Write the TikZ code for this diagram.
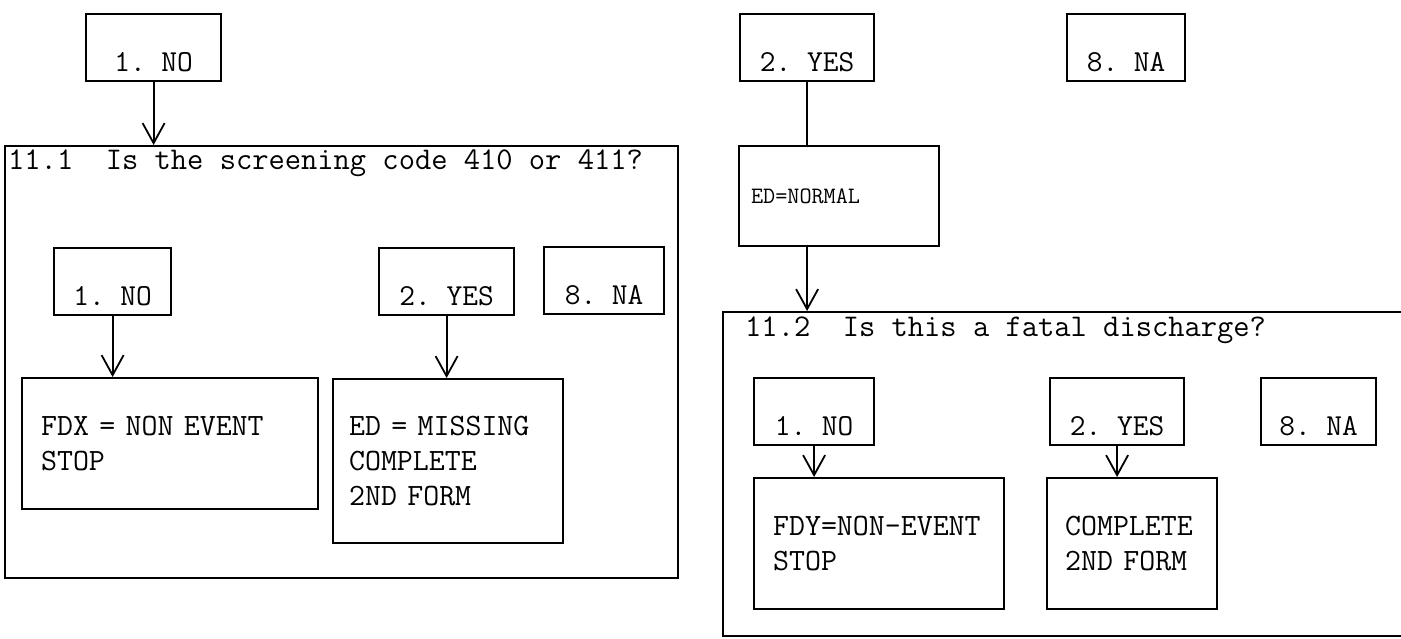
\documentclass[tikz,border=0pt]{standalone}
\usepackage{fontspec}
\usetikzlibrary{arrows.meta}
\frenchspacing

\begin{document}
\begin{tikzpicture}[x=1pt,y=-1pt,
                panel/.style={draw,line width=2.2pt,anchor=north west,inner sep=0pt},
                question/.style={anchor=base west,inner sep=0pt,font=\fontsize{31.6}{34}\ttfamily},
                choice/.style={draw,line width=2.2pt,anchor=north west,inner sep=0pt,minimum width=#1,text height=57pt,text depth=10pt,font=\fontsize{30.5}{34}\ttfamily},
                result/.style={draw,line width=2.2pt,anchor=north west,inner ysep=0pt,align=left,font=\fontsize{31}{35}\ttfamily},
                connection/.style={-{Straight Barb[length=20pt,width=22pt]},line width=1.8pt},
                joint/.style={line width=1.8pt},
            ]

            \fill[white] (0,0) rectangle (1401,639);
            \useasboundingbox (0,0) rectangle (1401,639);
            \clip (0,0) rectangle (1401,639);

            % the two question frames
            \node[panel,minimum width=673pt,minimum height=432pt] (q1) at (4,145) {};
            \node[question] (q1text) at (8,170) {11.1\ \ Is the screening code 410 or 411?};

            \node[panel,minimum width=800pt,minimum height=324pt] (q2) at (722,311) {};
            \node[question] (q2text) at (745,336) {11.2\ \ Is this a fatal discharge?};

            % answer boxes
            \foreach \n/\x/\y/\w/\t in {top1/85/13/135/1. NO, top2/739/13/134/2. YES, top8/1066/13/118/8. NA,
                                        q1no/53/247/117/1. NO, q1yes/378/247/135/2. YES, q1na/543/246/120/8. NA,
                                        q2no/753/377/120/1. NO, q2yes/1049/377/134/2. YES, q2na/1260/377/115/8. NA} {
                \node[choice=\w pt] (\n) at (\x,\y) {\t};
            }

            % outcomes
            \node[result,text width=258pt,inner xsep=19pt,minimum height=131pt] (fdx) at (21,377) {FDX = NON EVENT\\STOP};
            \node[result,text width=198pt,inner xsep=16pt,minimum height=164pt] (edmiss) at (332,378) {ED = MISSING\\COMPLETE\\2ND FORM};
            \node[result,text width=176pt,inner xsep=12pt,minimum height=100pt,font=\fontsize{23.5}{26}\ttfamily] (ednorm) at (738,145) {ED=NORMAL};
            \node[result,text width=212pt,inner xsep=19pt,minimum height=131pt] (fdy) at (753,477) {FDY=NON-EVENT\\STOP};
            \node[result,text width=134pt,inner xsep=18pt,minimum height=131pt] (complete) at (1046,477) {COMPLETE\\2ND FORM};

            \foreach \a/\b in {top1/q1, q1no/fdx, q1yes/edmiss, q2no/fdy, q2yes/complete} {
                \draw[connection] (\a.south) -- (\a.south |- \b.north);
            }
            \draw[joint] (top2.south) -- (top2.south |- ednorm.north);
            \draw[connection] (top2.south |- ednorm.south) -- (top2.south |- q2.north);
        \end{tikzpicture}
\end{document}
